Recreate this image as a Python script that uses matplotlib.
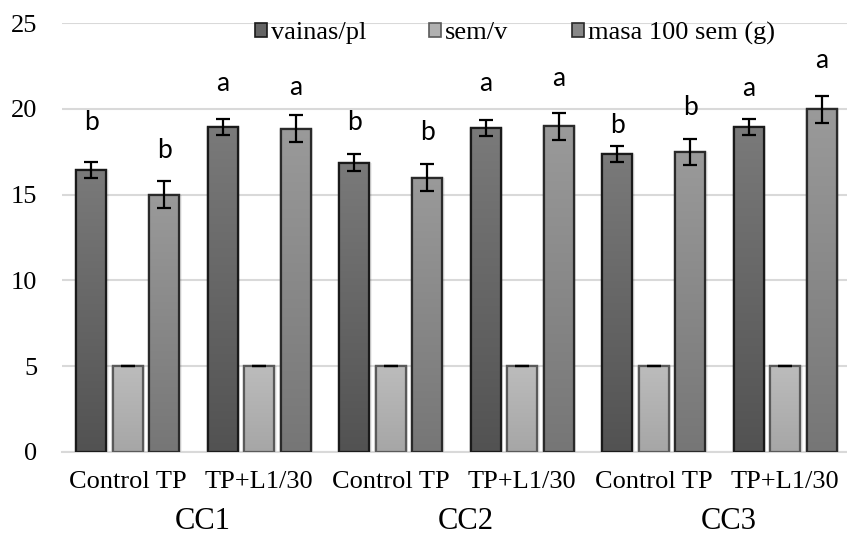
import numpy as np
import matplotlib
matplotlib.use("Agg")
import matplotlib.pyplot as plt
from matplotlib.patches import Patch

treatments = ["Control TP", "TP+L1/30", "Control TP", "TP+L1/30", "Control TP", "TP+L1/30"]
groups = ["CC1", "CC2", "CC3"]
series = ["vainas/pl", "sem/v", "masa 100 sem (g)"]

vainas = [16.45, 18.95, 16.86, 18.88, 17.36, 18.95]
vainas_err = [0.47, 0.47, 0.48, 0.45, 0.47, 0.47]
semv = [5, 5, 5, 5, 5, 5]
semv_err = [0, 0, 0, 0, 0, 0]
masa = [14.98, 18.85, 15.99, 18.98, 17.48, 19.96]
masa_err = [0.79, 0.78, 0.78, 0.79, 0.78, 0.80]

letters_vainas = ["b", "a", "b", "a", "b", "a"]
letters_masa = ["b", "a", "b", "a", "b", "a"]
letters_vainas_y = [19.2, 21.45, 19.2, 21.45, 19.0, 21.16]
letters_masa_y = [17.56, 21.24, 18.6, 21.74, 20.06, 22.8]

yticks = [0, 5, 10, 15, 20, 25]

serif = ["Liberation Serif", "DejaVu Serif"]
sans = ["Lato", "DejaVu Sans"]

W, H = 847, 537
fig = plt.figure(figsize=(W / 100, H / 100), dpi=100)
ax_l, ax_r, ax_t, ax_b = 62, 851, 23, 452
ax = fig.add_axes([ax_l / W, 1 - ax_b / H, (ax_r - ax_l) / W, (ax_b - ax_t) / H])

x = np.arange(len(treatments))
w = 0.228
step = 0.278
offsets = [-step, 0, step]
data = [vainas, semv, masa]
errs = [vainas_err, semv_err, masa_err]
grads = [("#7a7a7a", "#525252"), ("#bcbcbc", "#a6a6a6"), ("#9a9a9a", "#767676")]
edges = ["#1a1a1a", "#5a5a5a", "#2a2a2a"]
faces = ["#646464", "#b1b1b1", "#888888"]

def hex2rgb(h):
    return np.array([int(h[i:i+2], 16) / 255 for i in (1, 3, 5)])

for k in range(3):
    # soft shadow
    ax.bar(x + offsets[k] + 0.004, data[k], w + 0.03, color="#000000", alpha=0.06, zorder=1, linewidth=0)
    bars = ax.bar(x + offsets[k], data[k], w, color=faces[k], edgecolor=edges[k],
                  linewidth=1.6, zorder=3)
    top, bot = hex2rgb(grads[k][0]), hex2rgb(grads[k][1])
    grad = np.linspace(0, 1, 256)[:, None, None]
    img = top * (1 - grad) + bot * grad
    for b in bars:
        bx, by = b.get_x(), b.get_y()
        bw, bh = b.get_width(), b.get_height()
        im = ax.imshow(img, extent=[bx, bx + bw, by, by + bh], aspect="auto",
                       zorder=3.5, origin="upper")
        im.set_clip_path(b)
    ax.bar(x + offsets[k], data[k], w, fill=False, edgecolor=edges[k], linewidth=1.6, zorder=4)
    ax.errorbar(x + offsets[k], data[k], yerr=errs[k], fmt="none", ecolor="black",
                elinewidth=1.6, capsize=5, capthick=1.6, zorder=5)

for i in range(len(x)):
    ax.text(x[i] + offsets[0], letters_vainas_y[i], letters_vainas[i], ha="center", va="center",
            fontsize=19, family=sans, zorder=6)
    ax.text(x[i] + offsets[2], letters_masa_y[i], letters_masa[i], ha="center", va="center",
            fontsize=19, family=sans, zorder=6)

ax.set_xlim(-0.5, len(x) - 0.5)
ax.set_ylim(0, 25)
ax.set_yticks(yticks)
ax.set_yticklabels([str(t) for t in yticks], family=serif, fontsize=19)
ax.yaxis.grid(True, color="#d9d9d9", linewidth=1.5, zorder=0)
ax.set_axisbelow(True)
for s in ["top", "right", "left"]:
    ax.spines[s].set_visible(False)
ax.spines["bottom"].set_color("#d9d9d9")
ax.spines["bottom"].set_linewidth(1.5)
ax.tick_params(axis="y", length=0, pad=18)
ax.tick_params(axis="x", length=0, pad=14)
ax.set_xticks(x)
ax.set_xticklabels(treatments, family=serif, fontsize=19)

for g, name in enumerate(groups):
    ax.text(2 * g + 0.57, -0.163, name, transform=ax.get_xaxis_transform(), ha="center",
            va="center", family=serif, fontsize=22)

handles = [Patch(facecolor=faces[k], edgecolor=edges[k], linewidth=1.2) for k in range(3)]
leg = ax.legend(handles, series, loc="center", bbox_to_anchor=(0.574, 0.976), ncol=3,
                frameon=False, prop={"family": serif, "size": 19}, handlelength=0.45,
                handleheight=0.45, handletextpad=0.15, columnspacing=2.4,
                borderaxespad=0, borderpad=0)

fig.savefig("out.png", dpi=100)
